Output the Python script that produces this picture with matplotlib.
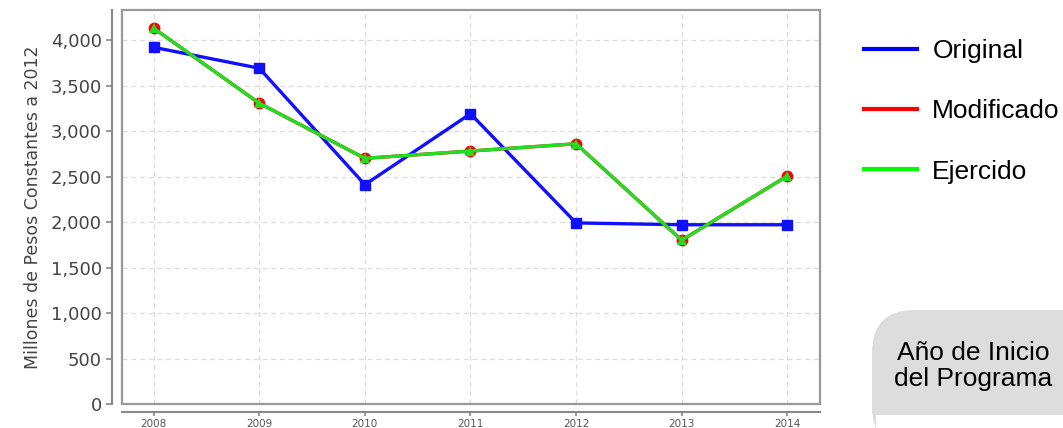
import matplotlib
matplotlib.use("Agg")
import matplotlib.pyplot as plt
from matplotlib.lines import Line2D
from matplotlib.patches import Rectangle, FancyBboxPatch
from matplotlib.ticker import FuncFormatter

years = [2008, 2009, 2010, 2011, 2012, 2013, 2014]
original = [3920, 3690, 2410, 3190, 1990, 1970, 1970]
modificado = [4130, 3305, 2700, 2780, 2860, 1800, 2505]
ejercido = [4130, 3305, 2700, 2780, 2860, 1800, 2505]
series_names = ["Original", "Modificado", "Ejercido"]
ylabel = "Millones de Pesos Constantes a 2012"
box_text = "Año de Inicio\ndel Programa"

fig = plt.figure(figsize=(10.63, 4.28), dpi=100)
ax = fig.add_axes([122 / 1063, 24 / 428, 698 / 1063, 394 / 428])

ax.plot(years, original, color="#1010ff", lw=2.4, marker="s", ms=7.5, zorder=3)
ax.plot(years, modificado, color="#ff0000", lw=2.4, marker="o", ms=7.5, zorder=4)
ax.plot(years, ejercido, color="#22dd22", lw=2.4, marker="^", ms=7.5,
        markeredgewidth=0, zorder=5)

ax.set_xlim(2007.70, 2014.31)
ax.set_ylim(0, 4330)
ax.set_xticks(years)
ax.set_yticks(range(0, 4001, 500))
ax.yaxis.set_major_formatter(FuncFormatter(lambda v, p: f"{int(v):,}"))
ax.grid(True, color="#dddddd", ls=(0, (4, 3)), lw=0.9)
ax.set_axisbelow(True)

for s in ["top", "right"]:
    ax.spines[s].set_visible(False)
ax.spines["left"].set_position(("outward", 7))
ax.spines["bottom"].set_position(("outward", 6))
for s in ["left", "bottom"]:
    ax.spines[s].set_color("#888888")
    ax.spines[s].set_linewidth(1.5)
ax.add_patch(Rectangle((0, 0), 1, 1, transform=ax.transAxes, fill=False,
                       edgecolor="#999999", lw=1.6, clip_on=False, zorder=6))

ax.tick_params(axis="y", labelsize=13, colors="#888888", labelcolor="#444444",
               length=4, width=1.2)
ax.tick_params(axis="x", labelsize=7.5, colors="#888888", labelcolor="#555555",
               length=3, width=1.2, pad=1.5)
ax.set_ylabel(ylabel, fontsize=12.5, color="#444444", labelpad=6)

handles = [Line2D([], [], color=c, lw=3) for c in ["#0000ff", "#ff0000", "#00ff00"]]
fig.legend(handles, series_names, loc="upper left",
           bbox_to_anchor=(840 / 1063, 1 - 15 / 428), frameon=False,
           prop={"family": "Liberation Sans", "size": 19},
           handlelength=2.0, handletextpad=0.6, labelspacing=1.38)

fig.patches.append(FancyBboxPatch((872 / 1063, -0.05), 0.3, (428 - 310) / 428 + 0.05,
                                  boxstyle="round,pad=0,rounding_size=0.04",
                                  transform=fig.transFigure, facecolor="#dddddd",
                                  edgecolor="none", mutation_aspect=2.5))
fig.patches.append(Rectangle((876 / 1063, -0.01), 0.3, (428 - 415) / 428 + 0.01,
                             transform=fig.transFigure, facecolor="white",
                             edgecolor="none"))
fig.text(973 / 1063, 1 - 366 / 428, box_text, ha="center", va="center",
         family="Liberation Sans", fontsize=19, linespacing=1.1)

fig.savefig("out.png", dpi=100)
